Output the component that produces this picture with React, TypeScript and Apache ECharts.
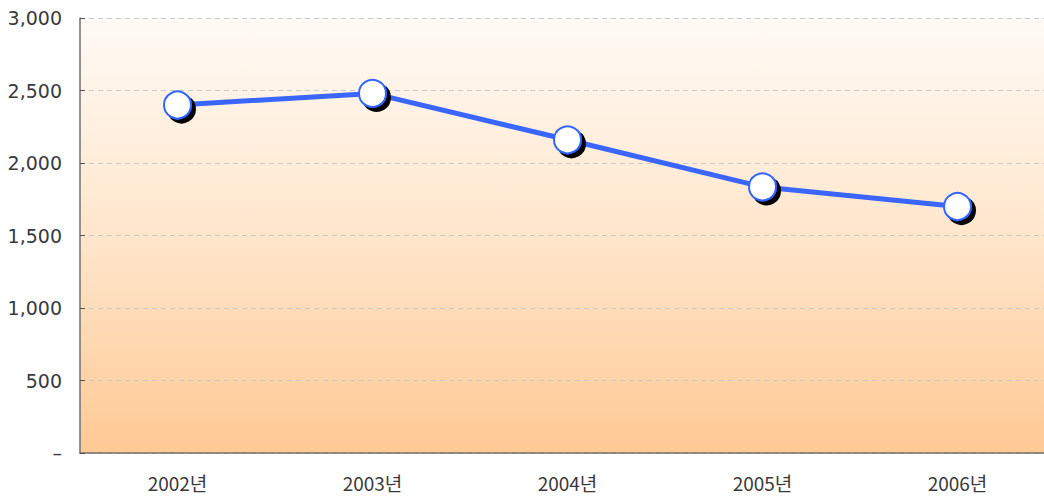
import React, { useEffect, useRef } from "react";
import * as echarts from "echarts";

const categories = ["2002년", "2003년", "2004년", "2005년", "2006년"];
const values = [2400, 2480, 2160, 1835, 1700];
const yMin = 0;
const yMax = 3000;
const yInterval = 500;

export default function App() {
  const ref = useRef<HTMLDivElement>(null);
  useEffect(() => {
    const chart = echarts.init(ref.current!, null, { renderer: "svg" });
    chart.setOption({
      animation: false,
      grid: { left: 80, top: 18, width: 975, height: 435, containLabel: false },
      xAxis: {
        type: "category",
        data: categories,
        boundaryGap: true,
        axisLine: { lineStyle: { color: "#707070", width: 1.5 } },
        axisTick: { inside: true, length: 5, lineStyle: { color: "#505050" } },
        axisLabel: {
          margin: 20,
          fontSize: 19,
          lineHeight: 19,
          color: "#3a3a3a",
          fontFamily: "'Noto Sans CJK KR', 'DejaVu Sans', sans-serif",
        },
      },
      yAxis: {
        type: "value",
        min: yMin,
        max: yMax,
        interval: yInterval,
        axisLine: { show: true, lineStyle: { color: "#707070", width: 1.5 } },
        axisTick: { show: true, inside: true, length: 5, lineStyle: { color: "#505050" } },
        splitLine: { lineStyle: { color: "#c8c8c8", type: [5, 4] } },
        axisLabel: {
          margin: 18,
          fontSize: 19,
          color: "#3a3a3a",
          fontFamily: "'DejaVu Sans', sans-serif",
          formatter: (v: number) => (v === 0 ? "–" : v.toLocaleString("en-US")),
        },
      },
      series: [
        {
          type: "line",
          data: values,
          symbol: "circle",
          symbolSize: 27,
          lineStyle: { color: "#3a66ff", width: 5 },
          itemStyle: {
            color: "#ffffff",
            borderColor: "#3366ff",
            borderWidth: 2,
            shadowColor: "#000000",
            shadowBlur: 0,
            shadowOffsetX: 4,
            shadowOffsetY: 4,
          },
          z: 3,
        },
      ],
    });
    return () => chart.dispose();
  }, []);
  return (
    <div style={{ position: "fixed", left: 0, top: 0, width: 1044, height: 498, overflow: "hidden", background: "#fff" }}>
      <div
        style={{
          position: "absolute",
          left: 80,
          top: 18,
          width: 975,
          height: 435,
          background: "linear-gradient(to bottom, #fffaf5 0%, #ffe6cc 50%, #ffc994 100%)",
        }}
      />
      <div ref={ref} style={{ position: "absolute", left: 0, top: 0, width: 1100, height: 498 }} />
    </div>
  );
}
